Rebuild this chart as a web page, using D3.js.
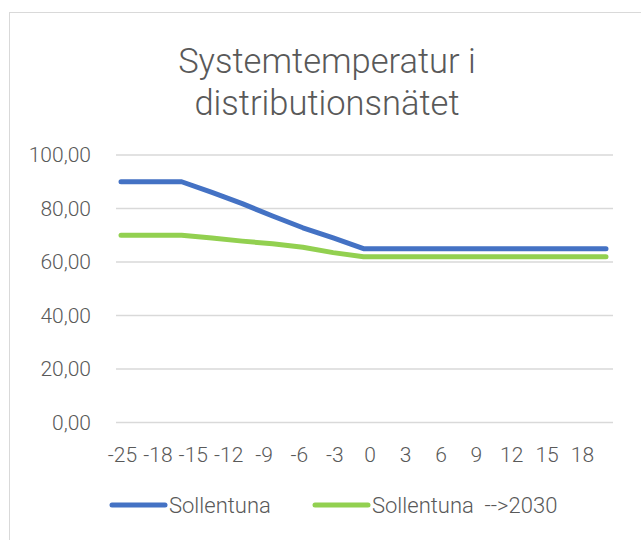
<!DOCTYPE html>
<html>
<head>
<meta charset="utf-8">
<script src="https://cdn.jsdelivr.net/npm/d3@7"></script>
<style>
  body { margin: 0; background: #fff; }
  text { font-family: Roboto, "Liberation Sans", sans-serif; font-weight: 300; fill: #595959; }
</style>
</head>
<body>
<svg id="chart" width="641" height="540"></svg>
<script>
// data
var xLabels = ["-25", "-18", "-15", "-12", "-9", "-6", "-3", "0", "3", "6", "9", "12", "15", "18"];
var sollentuna = [90, 90, 90, 86, 81.8, 77.2, 72.8, 69, 65, 65, 65, 65, 65, 65, 65, 65, 65];
var sollentuna2030 = [70, 70, 70, 69, 67.8, 66.8, 65.5, 63.5, 62, 62, 62, 62, 62, 62, 62, 62, 62];
var yTicks = [0, 20, 40, 60, 80, 100];
var seriesNames = ["Sollentuna", "Sollentuna  -->2030"];
var colors = ["#4472C4", "#92D050"];

var svg = d3.select("#chart");

// chart border
svg.append("rect")
    .attr("x", 9.5).attr("y", 12.5)
    .attr("width", 700).attr("height", 600)
    .style("fill", "#fff")
    .style("stroke", "#d9d9d9");

// Title
var title = svg.append("text")
    .attr("x", 327)
    .attr("text-anchor", "middle")
    .attr("font-size", "34.5px");
title.append("tspan").attr("x", 327).attr("y", 73).text("Systemtemperatur i");
title.append("tspan").attr("x", 327).attr("y", 115).text("distributionsnätet");

// scales
var y = d3.scaleLinear().domain([0, 100]).range([422.5, 155]);
var x = d3.scalePoint()
    .domain(d3.range(sollentuna.length))
    .range([121, 606]);
var xLab = d3.scalePoint().domain(xLabels).range([122, 582]);
var fmt = d3.format(".2f");

// gridlines
svg.append("g").selectAll("line")
    .data(yTicks)
    .enter()
    .append("line")
    .attr("x1", 116).attr("x2", 613)
    .attr("y1", d => y(d)).attr("y2", d => y(d))
    .style("stroke", "#d9d9d9")
    .style("stroke-width", 1.5);

// Y axis
var yAxis = svg.append("g")
    .attr("transform", "translate(91,0)")
    .call(d3.axisLeft(y).tickValues(yTicks).tickSize(0).tickPadding(0)
        .tickFormat(d => fmt(d).replace(".", ",")));
yAxis.select(".domain").remove();
yAxis.selectAll("text").attr("font-size", "21px").style("font-family", null).attr("fill", null);

// X axis labels
var xAxis = svg.append("g")
    .attr("transform", "translate(0,447)")
    .call(d3.axisBottom(xLab).tickSize(0).tickPadding(0));
xAxis.select(".domain").remove();
xAxis.selectAll("text").attr("font-size", "21px").style("font-family", null).attr("fill", null);

// lines
var line = d3.line()
    .x((d, i) => x(i))
    .y(d => y(d));

[sollentuna, sollentuna2030].forEach(function(s, k) {
    svg.append("path")
        .datum(s)
        .attr("d", line)
        .style("fill", "none")
        .style("stroke", colors[k])
        .style("stroke-width", 5)
        .style("stroke-linecap", "round")
        .style("stroke-linejoin", "round");
});

// Legend
var legendX = [110, 313];
seriesNames.forEach(function(name, k) {
    var g = svg.append("g").attr("transform", "translate(" + legendX[k] + ",505)");
    g.append("line")
        .attr("x1", 2).attr("x2", 55)
        .style("stroke", colors[k])
        .style("stroke-width", 5)
        .style("stroke-linecap", "round");
    g.append("text")
        .attr("x", 59).attr("y", 8)
        .attr("font-size", "22px")
        .style("white-space", "pre")
        .text(name);
});
</script>
</body>
</html>
